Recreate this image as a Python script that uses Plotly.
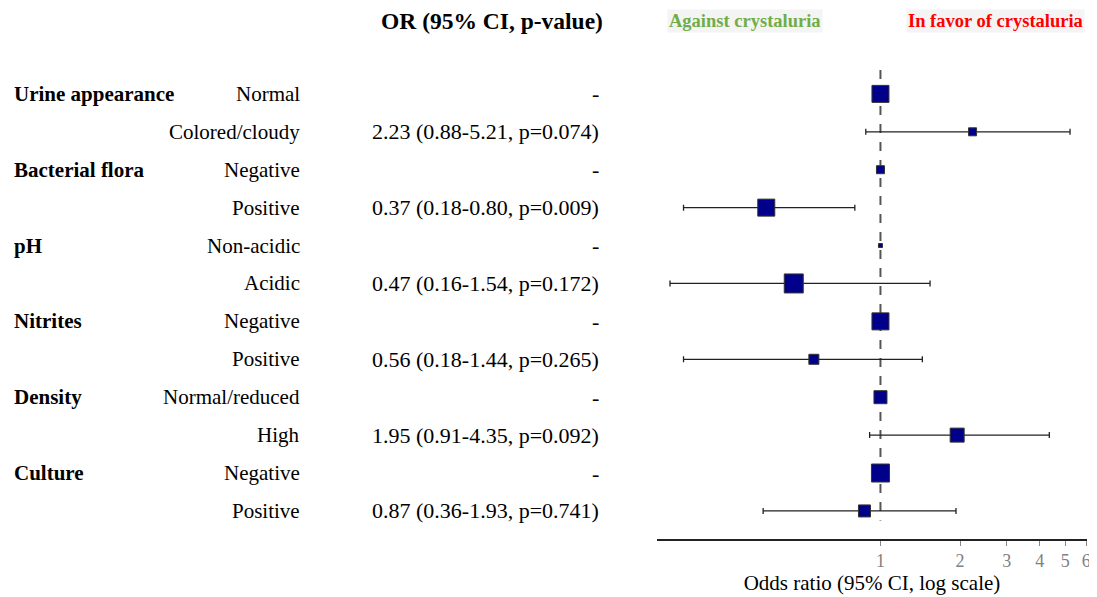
import plotly.graph_objects as go

variables = ["Urine appearance", "", "Bacterial flora", "", "pH", "", "Nitrites", "", "Density", "", "Culture", ""]
levels = ["Normal", "Colored/cloudy", "Negative", "Positive", "Non-acidic", "Acidic",
          "Negative", "Positive", "Normal/reduced", "High", "Negative", "Positive"]
or_vals = [1, 2.23, 1, 0.37, 1, 0.47, 1, 0.56, 1, 1.95, 1, 0.87]
ci_low = [None, 0.88, None, 0.18, None, 0.16, None, 0.18, None, 0.91, None, 0.36]
ci_high = [None, 5.21, None, 0.80, None, 1.54, None, 1.44, None, 4.35, None, 1.93]
p_vals = [None, "0.074", None, "0.009", None, "0.172", None, "0.265", None, "0.092", None, "0.741"]
weights = [17, 8, 8, 17, 4, 19, 17, 10, 13, 14, 18, 12]
x_ticks = [1, 2, 3, 4, 5, 6]

FONT = "Liberation Serif"
rows = list(range(len(levels)))

# page has an 8px body margin; figure extends to the window's right/bottom edges
OFF = 8
W, H = 1097 - OFF, 597 - OFF


def px(X):
    return (X - OFF) / W


def py(Y):
    return 1 - (Y - OFF) / H


err_plus = [(h - o) if h is not None else 0 for h, o in zip(ci_high, or_vals)]
err_minus = [(o - l) if l is not None else 0 for l, o in zip(ci_low, or_vals)]

fig = go.Figure()
ci_rows = [i for i in rows if ci_low[i] is not None]
fig.add_trace(go.Scatter(
    x=[or_vals[i] for i in ci_rows], y=ci_rows, mode="markers",
    marker=dict(size=1, color="rgba(0,0,0,0)"),
    error_x=dict(type="data", symmetric=False,
                 array=[err_plus[i] for i in ci_rows],
                 arrayminus=[err_minus[i] for i in ci_rows],
                 color="#222222", thickness=1.3, width=3),
    showlegend=False, hoverinfo="skip"))
fig.add_trace(go.Scatter(
    x=or_vals, y=rows, mode="markers",
    marker=dict(symbol="square", size=weights, color="#00008B", opacity=1,
                line=dict(color="#333333", width=1)),
    showlegend=False))

# reference line at OR=1
fig.add_shape(type="line", x0=1, x1=1, xref="x", y0=-0.63, y1=11.25, yref="y",
              line=dict(color="#555555", width=2, dash="dash"), layer="below")

annotations = []
for i in rows:
    if variables[i]:
        annotations.append(dict(x=px(12), y=i, xref="paper", yref="y", text="<b>%s</b>" % variables[i],
                                xanchor="left", yanchor="middle", showarrow=False,
                                font=dict(family=FONT, size=21, color="black")))
    annotations.append(dict(x=px(302), y=i, xref="paper", yref="y", text=levels[i],
                            xanchor="right", yanchor="middle", showarrow=False,
                            font=dict(family=FONT, size=21, color="black")))
    if ci_low[i] is None:
        txt = "-"
    else:
        txt = "%.2f (%.2f-%.2f, p=%s)" % (or_vals[i], ci_low[i], ci_high[i], p_vals[i])
    annotations.append(dict(x=px(601), y=i, xref="paper", yref="y", text=txt,
                            xanchor="right", yanchor="middle", showarrow=False,
                            font=dict(family=FONT, size=22, color="black")))

annotations.append(dict(x=px(492), y=py(21), xref="paper", yref="paper",
                        text="<b>OR (95% CI, p-value)</b>", showarrow=False,
                        xanchor="center", yanchor="middle",
                        font=dict(family=FONT, size=23.5, color="black")))
annotations.append(dict(x=px(745), y=py(21), xref="paper", yref="paper",
                        text="<b>Against crystaluria</b>", showarrow=False,
                        xanchor="center", yanchor="middle", bgcolor="#F4F4F4", borderpad=1,
                        font=dict(family=FONT, size=18.5, color="#70AD47")))
annotations.append(dict(x=px(995), y=py(21), xref="paper", yref="paper",
                        text="<b>In favor of crystaluria</b>", showarrow=False,
                        xanchor="center", yanchor="middle", bgcolor="#F4F4F4", borderpad=1,
                        font=dict(family=FONT, size=18.5, color="#FF0000")))

fig.update_layout(
    width=W, height=H,
    margin=dict(l=0, r=0, t=0, b=0, autoexpand=False),
    paper_bgcolor="white", plot_bgcolor="white",
    annotations=annotations,
    xaxis=dict(type="log", domain=[px(657), px(1087)], range=[-0.845, 0.781], automargin=False,
               tickvals=x_ticks, ticktext=[str(t) for t in x_ticks],
               showgrid=False, zeroline=False, showline=True, linecolor="#222222", linewidth=1.5,
               ticks="outside", ticklen=5, tickcolor="#888888", ticklabeloverflow="allow",
               tickfont=dict(family=FONT, size=18, color="#808080"),
               title=dict(text="Odds ratio (95% CI, log scale)", standoff=5,
                          font=dict(family=FONT, size=21, color="black"))),
    yaxis=dict(domain=[py(539), py(70)], range=[11.74, -0.63], automargin=False,
               showgrid=False, zeroline=False, showline=False, showticklabels=False, ticks=""),
)

fig.write_html("out.html")
